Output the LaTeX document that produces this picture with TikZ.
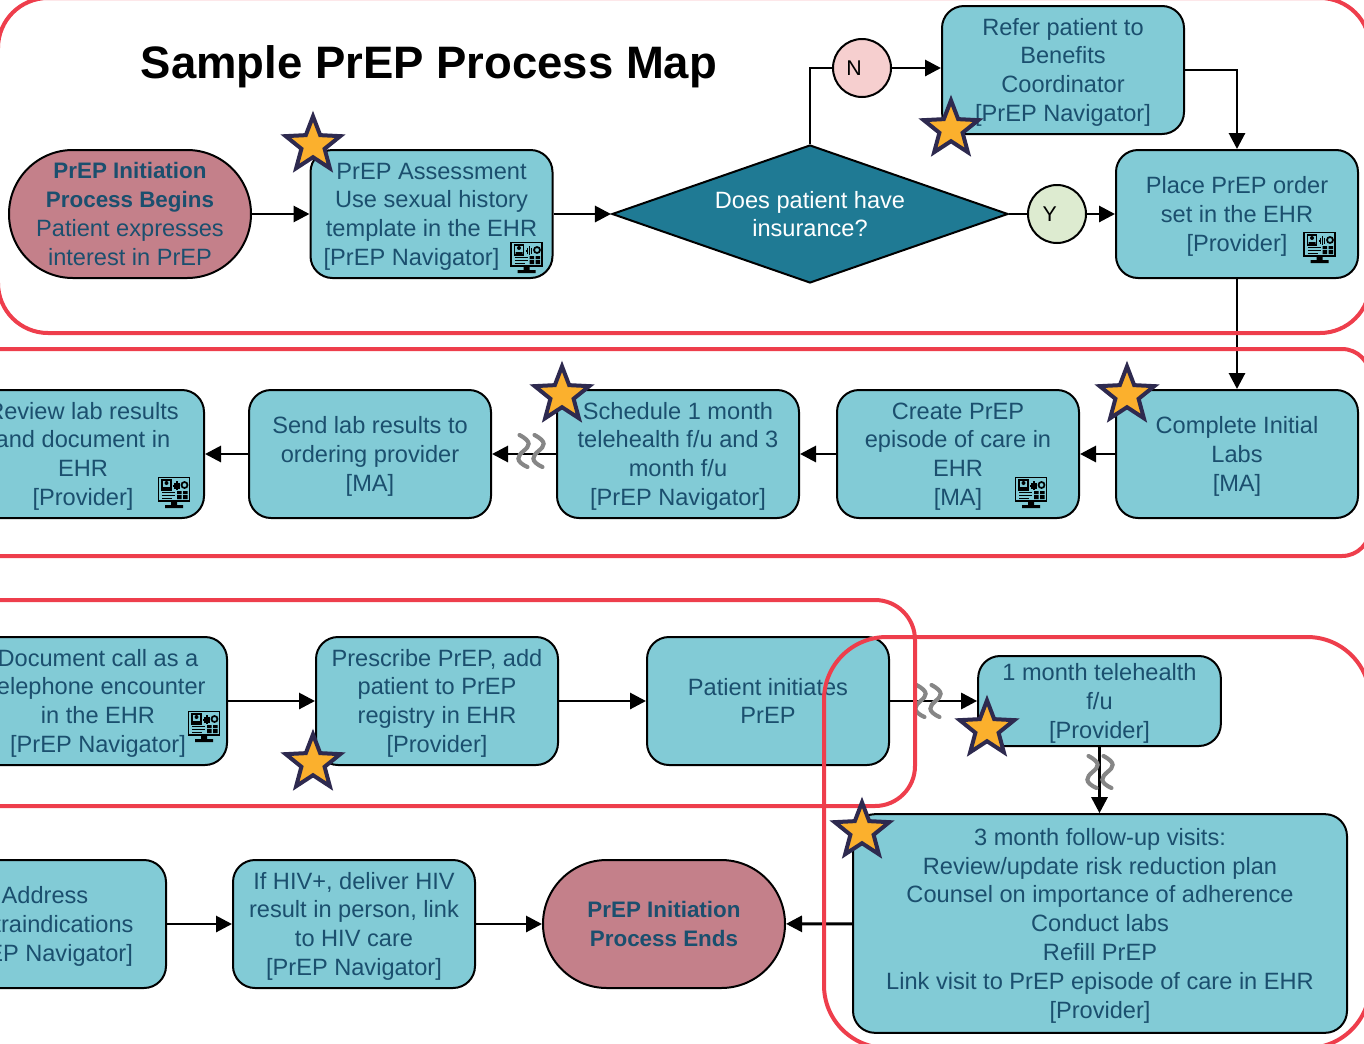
\documentclass[tikz,border=0pt]{standalone}
\usepackage{fontspec}
\setmainfont{Liberation Sans}
\usetikzlibrary{arrows.meta,shapes.geometric}
\definecolor{boxfill}{HTML}{82CBD6}
\definecolor{boxtext}{HTML}{1B4F6E}
\definecolor{pillfill}{HTML}{C4808A}
\definecolor{diafill}{HTML}{1F7A94}
\definecolor{framered}{HTML}{EE3E4C}
\definecolor{starfill}{HTML}{FBB02D}
\definecolor{starline}{HTML}{2E2A4F}
\definecolor{nofill}{HTML}{F6CFCF}
\definecolor{yesfill}{HTML}{DDEBD0}
\newcommand{\drop}{\rule{0pt}{16pt}}
\newcommand{\pillhead}[1]{{\bfseries\fontsize{16.8}{21.6}\selectfont #1}}
\tikzset{
  bodyfont/.style={font=\fontsize{17.7}{21.6}\selectfont},
  procbox/.style={draw=black, line width=1.5pt, fill=boxfill, text=boxtext, rounded corners=16.5pt,
    minimum width=181.5pt, minimum height=96pt, inner sep=0pt, align=center, bodyfont},
  termbox/.style={procbox, fill=pillfill, rounded corners=47.9pt},
  decision/.style={diamond, draw=black, line width=1.5pt, fill=diafill, text=white, minimum width=297pt,
    minimum height=103.5pt, inner sep=0pt, shape aspect=2.87, align=center, bodyfont},
  answer/.style={circle, draw=black, line width=1.5pt, minimum size=43.5pt, inner sep=0pt, text=black,
    font=\fontsize{16}{20}\selectfont},
  flow/.style={line width=2.2pt, black, -{Triangle[length=12pt,width=12pt]}},
  plain/.style={line width=2.2pt, black},
  frame/.style={draw=framered, line width=3pt},
  award/.style={star, star points=5, star point ratio=2.35, draw=starline, fill=starfill, line width=3pt,
    minimum size=43pt, inner sep=0pt},
  ehricon/.pic={
    \draw[black, line width=1.1pt] (-15.5,-15.5) rectangle (15.5,8);
    \draw[black, line width=.9pt] (-12,-13) rectangle (-3,-3);
    \fill[black] (-7.5,-10) circle[radius=2] (-11,-3) rectangle (-4,-6);
    \draw[black, line width=.8pt] (-1,-7) -- (1,-7) (1,-10) -- (1,-4) (3,-12) -- (3,-3) (5,-10) -- (5,-4);
    \draw[black, line width=1.3pt] (10.5,-8) circle[radius=3];
    \draw[black, line width=.9pt] (-12,-.5) -- (1,-.5) (-12,2.5) -- (1,2.5) (-12,5.5) -- (-2,5.5);
    \fill[black] (3,-2) rectangle (7.5,1) (9,-2) rectangle (13.5,1) (3,2) rectangle (7.5,6) (9,2) rectangle (13.5,6);
    \fill[black] (-3,8) rectangle (3,12) (-9,12) rectangle (9,15);
  },
  squiggle/.pic={
    \foreach \s in {-7.5,7.5} {
      \draw[gray!95, line width=3.1pt, line cap=round, shift={(\s,0)}] (-4,-16) .. controls (9,-9) and (6,-5) .. (0,0) .. controls (-6,5) and (-9,10) .. (4,16);
    }
  }
}
\begin{document}
\begin{tikzpicture}[x=.75pt, y=-.75pt]
  \useasboundingbox (0,0) rectangle (1364,1043);
  \clip (0,0) rectangle (1364,1043);

  \node[font=\bfseries\fontsize{34.1}{40}\selectfont, text=black] (title) at (429,67) {Sample PrEP Process Map};

  \node[termbox] (begin) at (130,214) {\pillhead{PrEP Initiation}\\\pillhead{Process Begins}\\Patient expresses\\interest in PrEP};
  \node[procbox] (assess) at (431.5,214) {\drop PrEP Assessment\\Use sexual history\\template in the EHR\\{}[PrEP Navigator]\hspace{30pt}\mbox{}};
  \node[decision] (insured) at (810,214) {Does patient have\\insurance?};
  \node[answer, fill=nofill] (no) at (862,68) {N\hspace{12pt}\mbox{}};
  \node[answer, fill=yesfill] (yes) at (1057,214) {Y\hspace{11pt}\mbox{}};
  \node[procbox] (refer) at (1063,70) {\drop Refer patient to\\Benefits\\Coordinator\\{}[PrEP Navigator]};
  \node[procbox] (order) at (1237,214) {\drop Place PrEP order\\set in the EHR\\{}[Provider]};

  \node[procbox] (labs) at (1237,454) {\drop Complete Initial\\Labs\\{}[MA]};
  \node[procbox] (episode) at (958,454) {\drop Create PrEP\\episode of care in\\EHR\\{}[MA]};
  \node[procbox] (schedule) at (678,454) {\drop Schedule 1 month\\telehealth f/u and 3\\month f/u\\{}[PrEP Navigator]};
  \node[procbox] (send) at (370,454) {\drop Send lab results to\\ordering provider\\{}[MA]};
  \node[procbox] (review) at (83,454) {\drop Review lab results\\and document in\\EHR\\{}[Provider]};

  \node[procbox, minimum width=193.5pt] (document) at (98,701) {\drop Document call as a\\telephone encounter\\in the EHR\\{}[PrEP Navigator]};
  \node[procbox] (prescribe) at (437,701) {\drop Prescribe PrEP, add\\patient to PrEP\\registry in EHR\\{}[Provider]};
  \node[procbox] (initiate) at (768,701) {Patient initiates\\PrEP};
  \node[procbox, minimum height=67.5pt, minimum width=182pt] (telehealth) at (1099.5,701) {\drop 1 month telehealth\\f/u\\{}[Provider]};
  \node[procbox, minimum width=370.5pt, minimum height=164pt] (followup) at (1100,923.5) {\drop 3 month follow-up visits:\\Review/update risk reduction plan\\Counsel on importance of adherence\\Conduct labs\\Refill PrEP\\Link visit to PrEP episode of care in EHR\\{}[Provider]};

  \node[procbox] (address) at (45,924) {\drop Address\\contraindications\\{}[PrEP Navigator]};
  \node[procbox] (deliver) at (354,924) {\drop If HIV+, deliver HIV\\result in person, link\\to HIV care\\{}[PrEP Navigator]};
  \node[termbox] (finish) at (664,924) {\pillhead{PrEP Initiation}\\\pillhead{Process Ends}};

  \draw[flow] (begin) -- (assess);
  \draw[flow] (assess) -- (insured);
  \draw[plain] (insured.north) |- (no);
  \draw[flow] (no) -- (refer.west |- no);
  \draw[plain] (insured) -- (yes);
  \draw[flow] (yes) -- (order);
  \draw[flow] (refer.east) -| (order.north);
  \draw[flow] (order) -- (labs);
  \draw[flow] (labs) -- (episode);
  \draw[flow] (episode) -- (schedule);
  \draw[flow] (schedule) -- (send);
  \draw[flow] (send) -- (review);
  \draw[flow] (document) -- (prescribe);
  \draw[flow] (prescribe) -- (initiate);
  \draw[flow] (initiate) -- (telehealth);
  \draw[flow] (telehealth) -- (followup.north -| telehealth);
  \draw[flow] (followup) -- (finish);
  \draw[flow] (address) -- (deliver);
  \draw[flow] (deliver) -- (finish);

  \foreach \x/\y in {526.5/258, 1319.5/248, 1031/493, 174/493, 204/727} {
    \pic at (\x,\y) {ehricon};
  }
  \foreach \x/\y in {531/451, 928/701, 1100/772} {
    \pic at (\x,\y) {squiggle};
  }

  \draw[frame, rounded corners=37.5pt] (-2,-2) rectangle (1370,333);
  \draw[frame, rounded corners=21pt] (-60,349) rectangle (1370,556);
  \draw[frame, rounded corners=30pt] (-60,600) rectangle (915,806);
  \draw[frame, rounded corners=47pt] (824,637) rectangle (1370,1048);

  \foreach \x/\y/\n in {313/145/a, 951/129/b, 562/395/c, 1127/395/d, 313/763/e, 987/729/f, 862/831/g} {
    \node[award] (award\n) at (\x,\y) {};
  }
\end{tikzpicture}
\end{document}
